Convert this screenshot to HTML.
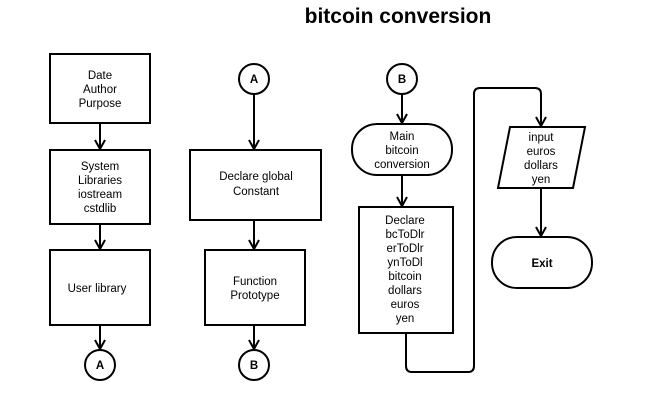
<!DOCTYPE html>
<html><head><style>
body{margin:0;background:#fff;width:654px;height:400px;overflow:hidden}
svg text{font-family:"Liberation Sans",Arial,sans-serif;font-size:11.5px;text-anchor:middle;fill:#000}
</style></head><body>
<svg width="654" height="400" viewBox="0 0 654 400" xmlns="http://www.w3.org/2000/svg">
<defs><marker id="a" markerWidth="12" markerHeight="12" refX="10" refY="6" orient="auto" markerUnits="userSpaceOnUse"><path d="M1,1 L10,6 L1,11" fill="none" stroke="#000" stroke-width="2"/></marker></defs>
<text x="398" y="23" style="font-size:21px;font-weight:bold">bitcoin conversion</text>
<g fill="none" stroke="#000" stroke-width="2">
<rect x="50" y="54" width="100" height="69"/>
<rect x="50" y="150" width="100" height="74"/>
<rect x="50" y="250" width="100" height="75"/>
<circle cx="100" cy="365" r="15"/>
<circle cx="254" cy="79" r="15"/>
<rect x="190" y="150" width="131" height="70"/>
<rect x="205" y="250" width="100" height="75"/>
<circle cx="254" cy="365" r="15"/>
<circle cx="402" cy="79" r="15"/>
<rect x="352" y="124" width="100" height="51" rx="25"/>
<rect x="359" y="207" width="94" height="126"/>
<polygon points="510,127 585,127 573,188 498,188"/>
<rect x="492" y="237" width="100" height="51" rx="25"/>
<g marker-end="url(#a)">
<line x1="100" y1="123" x2="100" y2="149"/>
<line x1="100" y1="224" x2="100" y2="249"/>
<line x1="100" y1="325" x2="100" y2="349"/>
<line x1="254" y1="94" x2="254" y2="149"/>
<line x1="254" y1="220" x2="254" y2="249"/>
<line x1="254" y1="325" x2="254" y2="349"/>
<line x1="402" y1="94" x2="402" y2="123"/>
<line x1="402" y1="175" x2="402" y2="206"/>
<path d="M406,333 V366 Q406,372 412,372 H468 Q474,372 474,366 V94 Q474,88 480,88 H535 Q541,88 541,94 V126"/>
<line x1="541" y1="188" x2="541" y2="236"/>
</g></g>
<text x="100" y="79">Date</text><text x="100" y="93">Author</text><text x="100" y="107">Purpose</text>
<text x="100" y="170">System</text><text x="100" y="184">Libraries</text><text x="100" y="198">iostream</text><text x="100" y="212">cstdlib</text>
<text x="97" y="292">User library</text>
<text x="100" y="369" style="font-weight:bold">A</text>
<text x="254" y="83" style="font-weight:bold">A</text>
<text x="256" y="180">Declare global</text><text x="256" y="195">Constant</text>
<text x="255" y="285">Function</text><text x="255" y="299">Prototype</text>
<text x="254" y="369" style="font-weight:bold">B</text>
<text x="402" y="83" style="font-weight:bold">B</text>
<text x="402" y="140">Main</text><text x="402" y="154">bitcoin</text><text x="402" y="168">conversion</text>
<text x="405" y="224">Declare</text><text x="405" y="238">bcToDlr</text><text x="405" y="252">erToDlr</text><text x="405" y="266">ynToDl</text><text x="405" y="280">bitcoin</text><text x="405" y="294">dollars</text><text x="405" y="308">euros</text><text x="405" y="322">yen</text>
<text x="541" y="141">input</text><text x="541" y="155">euros</text><text x="541" y="169">dollars</text><text x="541" y="183">yen</text>
<text x="542" y="267" style="font-weight:bold">Exit</text>
</svg>
</body></html>
